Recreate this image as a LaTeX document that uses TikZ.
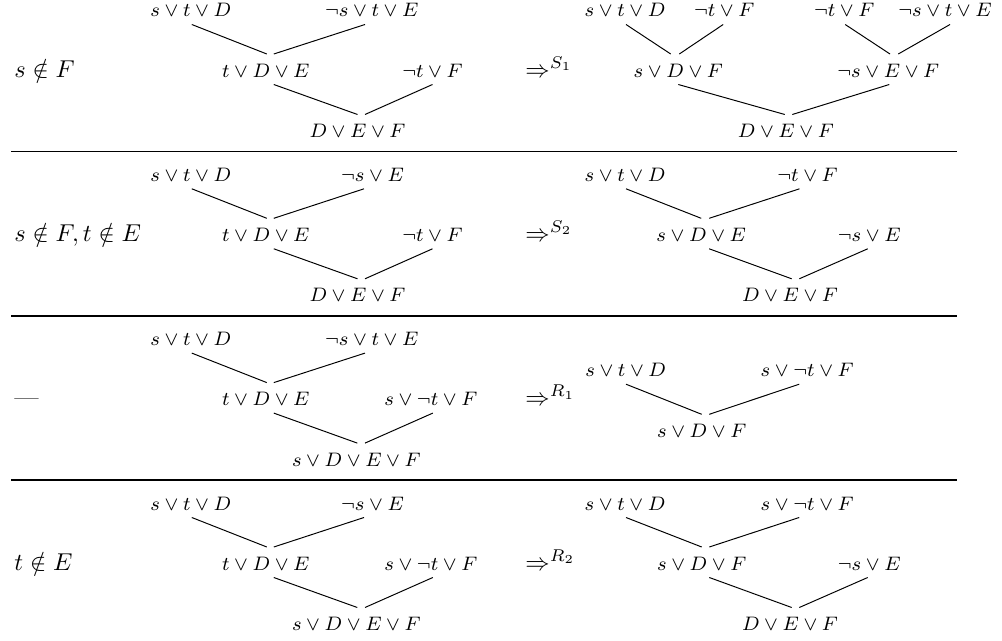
\documentclass[tikz,border=0pt]{standalone}
\newcommand\tlink[4]{\draw[conn] ([shift={(#2,7.5)}]#1.base) -- ([shift={(#4,-23)}]#3.base);}
\begin{document}
\begin{tikzpicture}[x=0.41pt,y=-0.41pt,
  cl/.style={inner sep=0pt,anchor=base,font=\footnotesize},
  lab/.style={inner sep=0pt,anchor=base west},
  conn/.style={line width=0.4pt},
  sepline/.style={line width=0.6pt}]
\useasboundingbox (0,0) rectangle (1002,641);

% ---------- Row 1 ----------
\node[lab] (l1) at (14,77) {$s\notin F$};
\node[cl] (a1) at (190.8,17) {$s\vee t\vee D$};
\node[cl] (a2) at (371.7,17) {$\neg s\vee t\vee E$};
\node[cl] (a3) at (265.8,77) {$t\vee D\vee E$};
\node[cl] (a4) at (432.5,77) {$\neg t\vee F$};
\node[cl] (a5) at (357.5,137.5) {$D\vee E\vee F$};
\tlink{a1}{1}{a3}{1}
\tlink{a2}{-6.7}{a3}{8}
\tlink{a3}{8}{a5}{0}
\tlink{a4}{0}{a5}{7.5}
\node[lab] (r1) at (525,77) {$\Rightarrow^{S_1}$};
\node[cl] (b1) at (625,17) {$s\vee t\vee D$};
\node[cl] (b2) at (724.2,17) {$\neg t\vee F$};
\node[cl] (b3) at (844.2,17) {$\neg t\vee F$};
\node[cl] (b4) at (945,17) {$\neg s\vee t\vee E$};
\node[cl] (b5) at (678.3,77) {$s\vee D\vee F$};
\node[cl] (b6) at (888.3,77) {$\neg s\vee E\vee F$};
\node[cl] (b7) at (785.8,137.5) {$D\vee E\vee F$};
\tlink{b1}{1}{b5}{-7.6}
\tlink{b2}{-1}{b5}{1}
\tlink{b3}{1}{b6}{1.7}
\tlink{b4}{5}{b6}{10}
\tlink{b5}{0}{b7}{-1}
\tlink{b6}{1}{b7}{6.5}
\draw[sepline] (11,151.7) -- (956.7,151.7);

% ---------- Row 2 ----------
\node[lab] (l2) at (14,241.3) {$s\notin F, t\notin E$};
\node[cl] (f1) at (190.8,181.3) {$s\vee t\vee D$};
\node[cl] (f2) at (372.5,181.3) {$\neg s\vee E$};
\node[cl] (f3) at (265.8,241.3) {$t\vee D\vee E$};
\node[cl] (f4) at (432.5,241.3) {$\neg t\vee F$};
\node[cl] (f5) at (357.5,301.8) {$D\vee E\vee F$};
\tlink{f1}{1}{f3}{1}
\tlink{f2}{-8.5}{f3}{8}
\tlink{f3}{8}{f5}{0}
\tlink{f4}{0}{f5}{7.5}
\node[lab] (r2) at (525,241.3) {$\Rightarrow^{S_2}$};
\node[cl] (c1) at (625,181.3) {$s\vee t\vee D$};
\node[cl] (c2) at (807.5,181.3) {$\neg t\vee F$};
\node[cl] (c3) at (701.2,241.3) {$s\vee D\vee E$};
\node[cl] (c4) at (869.2,241.3) {$\neg s\vee E$};
\node[cl] (c5) at (790,301.8) {$D\vee E\vee F$};
\tlink{c1}{1}{c3}{0}
\tlink{c2}{-8}{c3}{8}
\tlink{c3}{8}{c5}{1.7}
\tlink{c4}{-1.5}{c5}{9.3}
\draw[sepline] (11,316) -- (956.7,316);

% ---------- Row 3 ----------
\node[lab] (l3) at (14,405.6) {---};
\node[cl] (g1) at (190.8,345.6) {$s\vee t\vee D$};
\node[cl] (g2) at (371.7,345.6) {$\neg s\vee t\vee E$};
\node[cl] (g3) at (265.8,405.6) {$t\vee D\vee E$};
\node[cl] (g4) at (430.8,405.6) {$s\vee\neg t\vee F$};
\node[cl] (g5) at (356.3,466.1) {$s\vee D\vee E\vee F$};
\tlink{g1}{1}{g3}{1}
\tlink{g2}{-6.7}{g3}{8}
\tlink{g3}{8}{g5}{1}
\tlink{g4}{2}{g5}{8.7}
\node[lab] (r3) at (525,405.6) {$\Rightarrow^{R_1}$};
\node[cl] (d1) at (625.7,376.7) {$s\vee t\vee D$};
\node[cl] (d2) at (807.2,376.7) {$s\vee\neg t\vee F$};
\node[cl] (d3) at (701.7,437.3) {$s\vee D\vee F$};
\tlink{d1}{0.3}{d3}{0}
\tlink{d2}{-8}{d3}{7.6}
\draw[sepline] (11,480) -- (956.7,480);

% ---------- Row 4 ----------
\node[lab] (l4) at (14,570) {$t\notin E$};
\node[cl] (h1) at (190.8,510) {$s\vee t\vee D$};
\node[cl] (h2) at (372.5,510) {$\neg s\vee E$};
\node[cl] (h3) at (265.8,570) {$t\vee D\vee E$};
\node[cl] (h4) at (430.8,570) {$s\vee\neg t\vee F$};
\node[cl] (h5) at (356.3,630.5) {$s\vee D\vee E\vee F$};
\tlink{h1}{1}{h3}{1}
\tlink{h2}{-8.5}{h3}{8}
\tlink{h3}{8}{h5}{1}
\tlink{h4}{2}{h5}{8.7}
\node[lab] (r4) at (525,570) {$\Rightarrow^{R_2}$};
\node[cl] (e1) at (625,510) {$s\vee t\vee D$};
\node[cl] (e2) at (807.2,510) {$s\vee\neg t\vee F$};
\node[cl] (e3) at (701.7,570) {$s\vee D\vee F$};
\node[cl] (e4) at (869.2,570) {$\neg s\vee E$};
\node[cl] (e5) at (790,630.5) {$D\vee E\vee F$};
\tlink{e1}{1}{e3}{0}
\tlink{e2}{-8}{e3}{7.6}
\tlink{e3}{7.6}{e5}{1.7}
\tlink{e4}{-1.5}{e5}{9.3}
\end{tikzpicture}
\end{document}
